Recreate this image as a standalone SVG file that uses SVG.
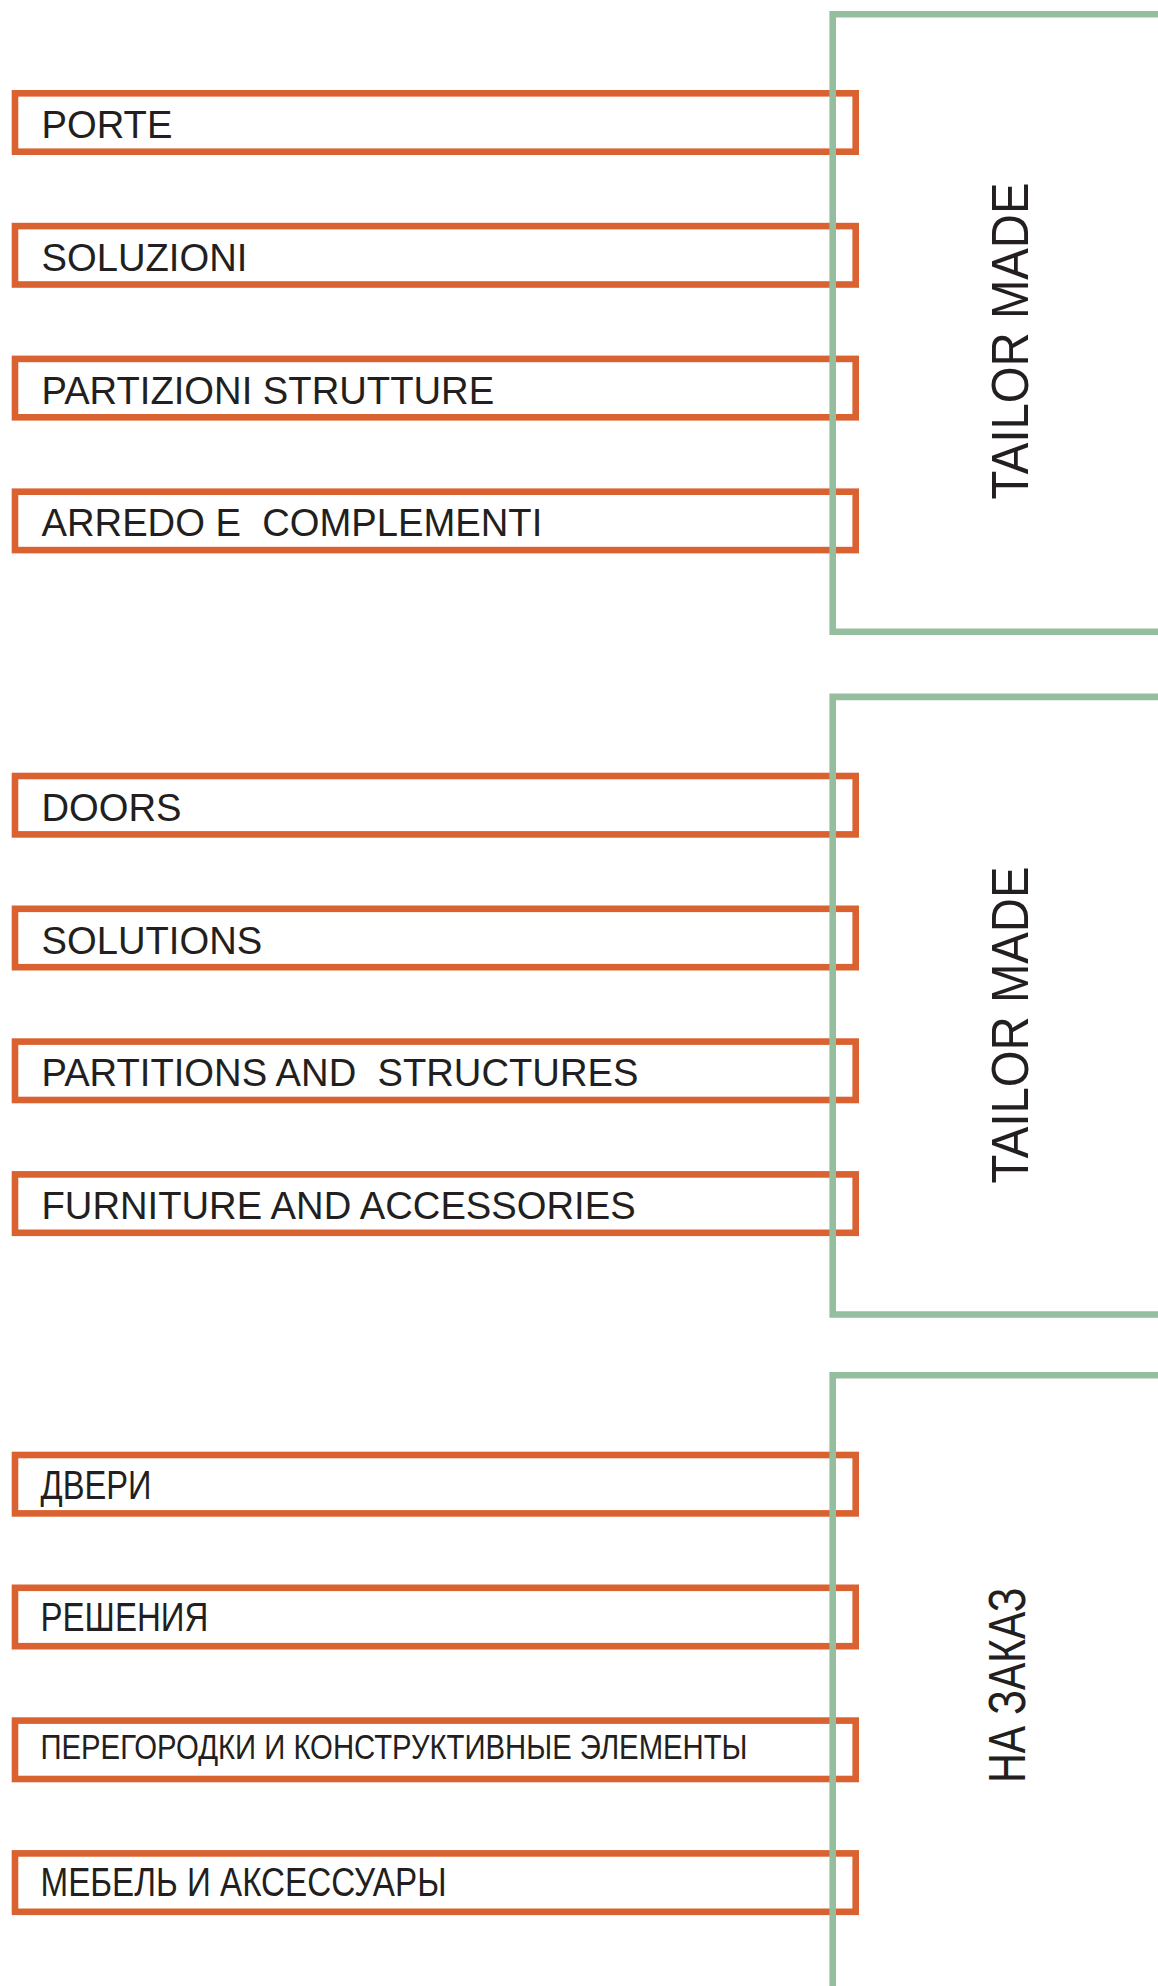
<svg xmlns="http://www.w3.org/2000/svg" width="1158" height="1986" viewBox="0 0 1158 1986">
<style>
.box{fill:#ffffff;stroke:#da6230;stroke-width:6.6}
.lbl{font-family:"Liberation Sans",Arial,sans-serif;font-size:38.2px;fill:#231f20;white-space:pre}
.ru{font-family:"Liberation Sans",Arial,sans-serif;font-size:40px;fill:#231f20}
.ru2{font-size:35.5px}
.br{fill:none;stroke:#94be9d;stroke-width:6.6;stroke-linejoin:miter}
.vt{font-family:"Liberation Sans",Arial,sans-serif;font-size:51px;fill:#231f20}
</style>
<rect width="1158" height="1986" fill="#ffffff"/>
<g id="nodes">
<g id="porte"><rect class="box" x="15" y="93.3" width="840.7" height="58.4"/><text class="lbl" x="41.5" y="138">PORTE</text></g>
<g id="soluzioni"><rect class="box" x="15" y="226.1" width="840.7" height="58.4"/><text class="lbl" x="41.5" y="270.8">SOLUZIONI</text></g>
<g id="partizioni"><rect class="box" x="15" y="358.9" width="840.7" height="58.4"/><text class="lbl" x="41.5" y="403.6">PARTIZIONI STRUTTURE</text></g>
<g id="arredo"><rect class="box" x="15" y="491.7" width="840.7" height="58.4"/><text class="lbl" x="41.5" y="536.4">ARREDO E  COMPLEMENTI</text></g>
<g id="doors"><rect class="box" x="15" y="776" width="840.7" height="58.4"/><text class="lbl" x="41.5" y="820.7">DOORS</text></g>
<g id="solutions"><rect class="box" x="15" y="908.8" width="840.7" height="58.4"/><text class="lbl" x="41.5" y="953.5">SOLUTIONS</text></g>
<g id="partitions"><rect class="box" x="15" y="1041.6" width="840.7" height="58.4"/><text class="lbl" x="41.5" y="1086.3">PARTITIONS AND  STRUCTURES</text></g>
<g id="furniture"><rect class="box" x="15" y="1174.4" width="840.7" height="58.4"/><text class="lbl" x="41.5" y="1219.1">FURNITURE AND ACCESSORIES</text></g>
<g id="dveri"><rect class="box" x="15" y="1455" width="840.7" height="58.4"/><text class="ru" x="40.5" y="1499" textLength="111" lengthAdjust="spacingAndGlyphs">ДВЕРИ</text></g>
<g id="resheniya"><rect class="box" x="15" y="1587.8" width="840.7" height="58.4"/><text class="ru" x="40.5" y="1631" textLength="168" lengthAdjust="spacingAndGlyphs">РЕШЕНИЯ</text></g>
<g id="peregorodki"><rect class="box" x="15" y="1720.6" width="840.7" height="58.4"/><text class="ru ru2" x="40.5" y="1759" textLength="707" lengthAdjust="spacingAndGlyphs">ПЕРЕГОРОДКИ И КОНСТРУКТИВНЫЕ ЭЛЕМЕНТЫ</text></g>
<g id="mebel"><rect class="box" x="15" y="1853.4" width="840.7" height="58.4"/><text class="ru" x="40.5" y="1895.5" textLength="406" lengthAdjust="spacingAndGlyphs">МЕБЕЛЬ И АКСЕССУАРЫ</text></g>
</g>
<g id="connectors">
<g id="group-it"><path class="br" d="M1162 14.2 H832.7 V631.7 H1162"/><text class="vt" transform="translate(1028.3 499.5) rotate(-90)" textLength="317" lengthAdjust="spacingAndGlyphs">TAILOR MADE</text></g>
<g id="group-en"><path class="br" d="M1162 696.9 H832.7 V1314.5 H1162"/><text class="vt" transform="translate(1028.3 1183.5) rotate(-90)" textLength="317" lengthAdjust="spacingAndGlyphs">TAILOR MADE</text></g>
<g id="group-ru"><path class="br" d="M1162 1375.3 H832.7 V1992"/><text class="vt" transform="translate(1025 1782.7) rotate(-90)" textLength="195" lengthAdjust="spacingAndGlyphs">НА ЗАКАЗ</text></g>
</g>
</svg>
